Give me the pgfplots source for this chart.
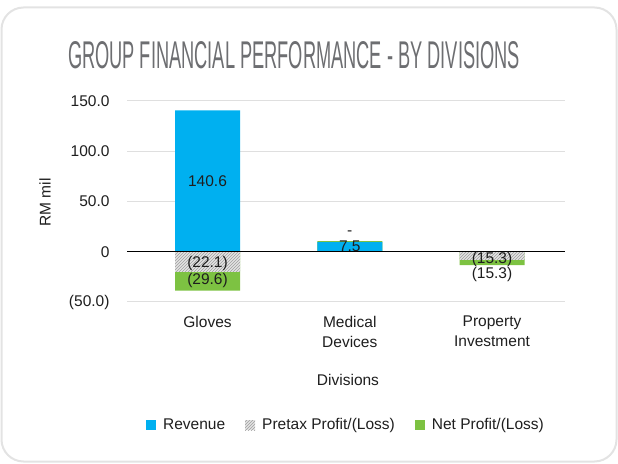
\documentclass[border=0pt]{standalone}
\usepackage{pgfplots}
\pgfplotsset{compat=1.18}
\usepackage{fontspec}
\setmainfont{Liberation Sans}
\usetikzlibrary{patterns}
\definecolor{revblue}{HTML}{00B0F0}
\definecolor{netgreen}{HTML}{7DC242}
\definecolor{titlegray}{HTML}{6D6E71}
\definecolor{txt}{HTML}{1E1E1E}
\newcommand{\f}{\fontsize{15.5}{20}\selectfont}
\begin{document}
\begin{tikzpicture}[x=1pt,y=1pt]
\path[use as bounding box] (0,0) rectangle (618,463);
\draw[gray!22, line width=2pt, rounded corners=22pt] (1.5,1.5) rectangle (616.5,455.5);
\node[text=titlegray, inner sep=0pt] at (294,408) {\resizebox{452pt}{27pt}{\fontsize{20}{20}\selectfont GROUP FINANCIAL PERFORMANCE - BY DIVISIONS}};
\node[rotate=90, text=txt, font=\f] at (45,260.5) {RM mil};
\node[text=txt, font=\f] at (348,83) {Divisions};
\begin{axis}[
  at={(127pt,161pt)}, anchor=south west, scale only axis,
  width=438pt, height=201pt,
  xmin=-0.566, xmax=2.513, ymin=-50, ymax=150,
  axis line style={draw=none},
  major tick style={draw=none},
  ymajorgrids, grid style={gray!25, line width=1pt},
  ytick={-50,0,50,100,150},
  yticklabels={(50.0),0,50.0,100.0,150.0},
  yticklabel style={font=\f, text=txt, xshift=-14pt},
  xtick={0,1,2},
  xticklabels={Gloves, Medical\\Devices, Property\\Investment},
  xticklabel style={font=\f, text=txt, align=center, yshift=-6pt},
  ybar, bar width=65pt, bar shift=0pt,
  clip=false,
  legend style={at={(0.5,-0.612)}, anchor=center, draw=none, fill=none,
    legend columns=3, font=\f, text=txt,
    /tikz/every odd column/.append style={column sep=5pt},
    /tikz/every even column/.append style={column sep=18pt}},
  legend image code/.code={\path[#1] (0pt,-5pt) rectangle (10pt,5pt);},
]
\addplot[fill=netgreen, draw=none, forget plot] coordinates {(0,-38.7) (1,10.6) (2,-13.3)};
\addplot[fill=gray!22, draw=none, postaction={pattern=north east lines, pattern color=gray!75}, forget plot] coordinates {(0,-20) (2,-8)};
\addplot[fill=revblue, draw=none, forget plot] coordinates {(0,140.6) (1,9.6)};
\draw[black, line width=1pt] (axis cs:-0.566,0) -- (axis cs:2.513,0);
\addlegendimage{fill=revblue, draw=none}
\addlegendentry{Revenue}
\addlegendimage{fill=gray!22, draw=none, postaction={pattern=north east lines, pattern color=gray!75}}
\addlegendentry{Pretax Profit/(Loss)}
\addlegendimage{fill=netgreen, draw=none}
\addlegendentry{Net Profit/(Loss)}
\begin{scope}[every node/.style={font=\f, text=txt, inner sep=0pt}]
\node at (axis cs:0,70) {140.6};
\node at (axis cs:0,-12) {(22.1)};
\node at (axis cs:0,-28.5) {(29.6)};
\node at (axis cs:1,5.2) {7.5};
\node at (axis cs:1,19) {-};
\node at (axis cs:2,-8) {(15.3)};
\node at (axis cs:2,-23) {(15.3)};
\end{scope}
\end{axis}
\end{tikzpicture}
\end{document}
